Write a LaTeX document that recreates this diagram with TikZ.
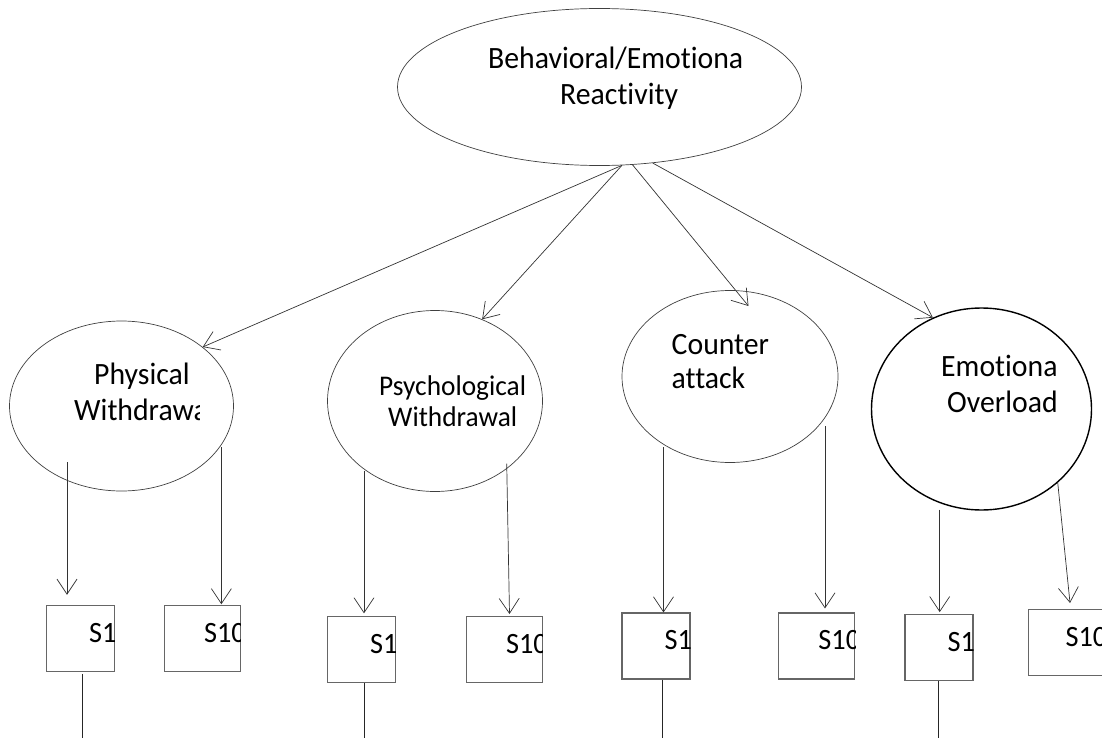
\documentclass[tikz,border=0pt]{standalone}
\usepackage{fontspec}
\setmainfont{Carlito}[Ligatures=NoCommon]
\newfontfamily\labelfont{Carlito}[Ligatures=NoCommon, FakeStretch=0.96]
\usetikzlibrary{arrows.meta,shapes.geometric}

\newcommand{\bigtext}{\labelfont\fontsize{31pt}{35pt}\selectfont}
\newcommand{\midtext}{\labelfont\fontsize{28.5pt}{31pt}\selectfont}
\newcommand{\itemtext}{\labelfont\fontsize{29.5pt}{33pt}\selectfont}

\begin{document}
\begin{tikzpicture}[
    x=1pt, y=-1pt,
    factor node/.style={ellipse, draw=black!75, line width=0.7pt, inner sep=0pt},
    item node/.style={rectangle, draw=black!60, line width=1.1pt, inner sep=0pt, minimum width=68pt, minimum height=66pt},
    wide item/.style={item node, minimum width=76pt},
    loading/.style={-{Straight Barb[length=15pt,width=20pt]}, black!80, line width=0.7pt},
    stem/.style={-, black!85, line width=0.8pt},
    word/.style={inner sep=0pt, anchor=base west, font=\bigtext},
    item word/.style={word, font=\itemtext}
]

\clip (0,0) rectangle (1102,738);

% Second-order factor
\node[factor node, minimum width=404pt, minimum height=157pt] (react) at (599.5,87) {};
\node[word] (reactA) at (488,68.5) {Behavioral/Emotiona};
\node[word] (reactB) at (560,105) {Reactivity};

% First-order factors
\node[factor node, minimum width=224pt, minimum height=170pt] (phys) at (121.5,406) {};
\node[factor node, minimum width=215pt, minimum height=181pt] (psych) at (435,401) {};
\node[factor node, minimum width=216pt, minimum height=172pt] (counter) at (730,376.5) {};
\node[factor node, draw=black, line width=1.4pt, minimum width=220pt, minimum height=202pt] (overload) at (981.5,409) {};

\node[word] (physA) at (94,384.5) {Physical};
\begin{scope}
    \clip (0,0) rectangle (199.5,738);
    \node[word] (physB) at (74,420) {Withdrawa};
\end{scope}
\node[word, font=\midtext] (psychA) at (379,395) {Psychological};
\node[word, font=\midtext] (psychB) at (388,426) {Withdrawal};
\node[word] (counterA) at (671.5,354) {Counter};
\node[word] (counterB) at (671.5,388) {attack};
\node[word] (overloadA) at (941,376.5) {Emotiona};
\node[word] (overloadB) at (947,412) {Overload};

% Loadings of the factors
\draw[loading] (react.-74) -- (phys.36);
\draw[loading] (react.-74) -- (psych.60);
\coordinate (counterTip) at (748.5,306);
\draw[loading] (react.-67) -- (counterTip);
\draw[loading] (react.-55) -- (overload.118);

% Items
\node[item node] (pw1) at (80.4,638.8) {};
\node[wide item] (pw10) at (202.4,638.8) {};
\node[item node] (psw1) at (361.4,649.4) {};
\node[wide item] (psw10) at (504.4,649.4) {};
\node[item node] (ca1) at (656,646) {};
\node[wide item] (ca10) at (816.8,646) {};
\node[item node] (eo1) at (939,647.7) {};
\node[wide item] (eo10) at (1066.9,642.4) {};

\begin{scope}
    \clip (pw1.north west) rectangle (pw1.south east);
    \node[item word] (pw1t) at ([xshift=43pt,yshift=-37.5pt]pw1.north west) {S1};
\end{scope}
\begin{scope}
    \clip (pw10.north west) rectangle (pw10.south east);
    \node[item word] (pw10t) at ([xshift=40pt,yshift=-37.5pt]pw10.north west) {S10};
\end{scope}
\begin{scope}
    \clip (psw1.north west) rectangle (psw1.south east);
    \node[item word] (psw1t) at ([xshift=43pt,yshift=-37.5pt]psw1.north west) {S1};
\end{scope}
\begin{scope}
    \clip (psw10.north west) rectangle (psw10.south east);
    \node[item word] (psw10t) at ([xshift=40pt,yshift=-37.5pt]psw10.north west) {S10};
\end{scope}
\begin{scope}
    \clip (ca1.north west) rectangle (ca1.south east);
    \node[item word] (ca1t) at ([xshift=43pt,yshift=-37.5pt]ca1.north west) {S1};
\end{scope}
\begin{scope}
    \clip (ca10.north west) rectangle (ca10.south east);
    \node[item word] (ca10t) at ([xshift=40pt,yshift=-37.5pt]ca10.north west) {S10};
\end{scope}
\begin{scope}
    \clip (eo1.north west) rectangle (eo1.south east);
    \node[item word] (eo1t) at ([xshift=43pt,yshift=-37.5pt]eo1.north west) {S1};
\end{scope}
\begin{scope}
    \clip (eo10.north west) rectangle (eo10.south east);
    \node[item word] (eo10t) at ([xshift=37pt,yshift=-37.5pt]eo10.north west) {S10};
\end{scope}

% Loadings of the items
\coordinate (pwA) at (67,462);
\coordinate (pwB) at (221.4,447);
\coordinate (pswA) at (364,470.7);
\coordinate (pswB) at (506.7,463.6);
\coordinate (pswBt) at (509.5,614);
\coordinate (caA) at (663.5,447);
\coordinate (caB) at (825,426);
\coordinate (eoA) at (939.7,509.7);
\coordinate (eoB) at (1057.7,482.5);
\coordinate (eoBt) at (1070,603);

\draw[loading, shorten >=10.5pt] (pwA) -- (pw1.north -| pwA);
\draw[loading, shorten >=1pt] (pwB) -- (pw10.north -| pwB);
\draw[loading, shorten >=2.5pt] (pswA) -- (psw1.north -| pswA);
\draw[loading] (pswB) -- (pswBt);
\draw[loading] (caA) -- (ca1.north -| caA);
\draw[loading, shorten >=4pt] (caB) -- (ca10.north -| caB);
\draw[loading, shorten >=2pt] (eoA) -- (eo1.north -| eoA);
\draw[loading] (eoB) -- (eoBt);

% Residual stems
\coordinate (pwEnd) at (82.3,745);
\coordinate (pswEnd) at (364,745);
\coordinate (caEnd) at (662.7,745);
\coordinate (eoEnd) at (938.2,745);
\draw[stem] ([yshift=-1.5pt]pw1.south -| pwEnd) -- (pwEnd);
\draw[stem] (psw1.south -| pswEnd) -- (pswEnd);
\draw[stem] (ca1.south -| caEnd) -- (caEnd);
\draw[stem] (eo1.south -| eoEnd) -- (eoEnd);

\end{tikzpicture}
\end{document}
